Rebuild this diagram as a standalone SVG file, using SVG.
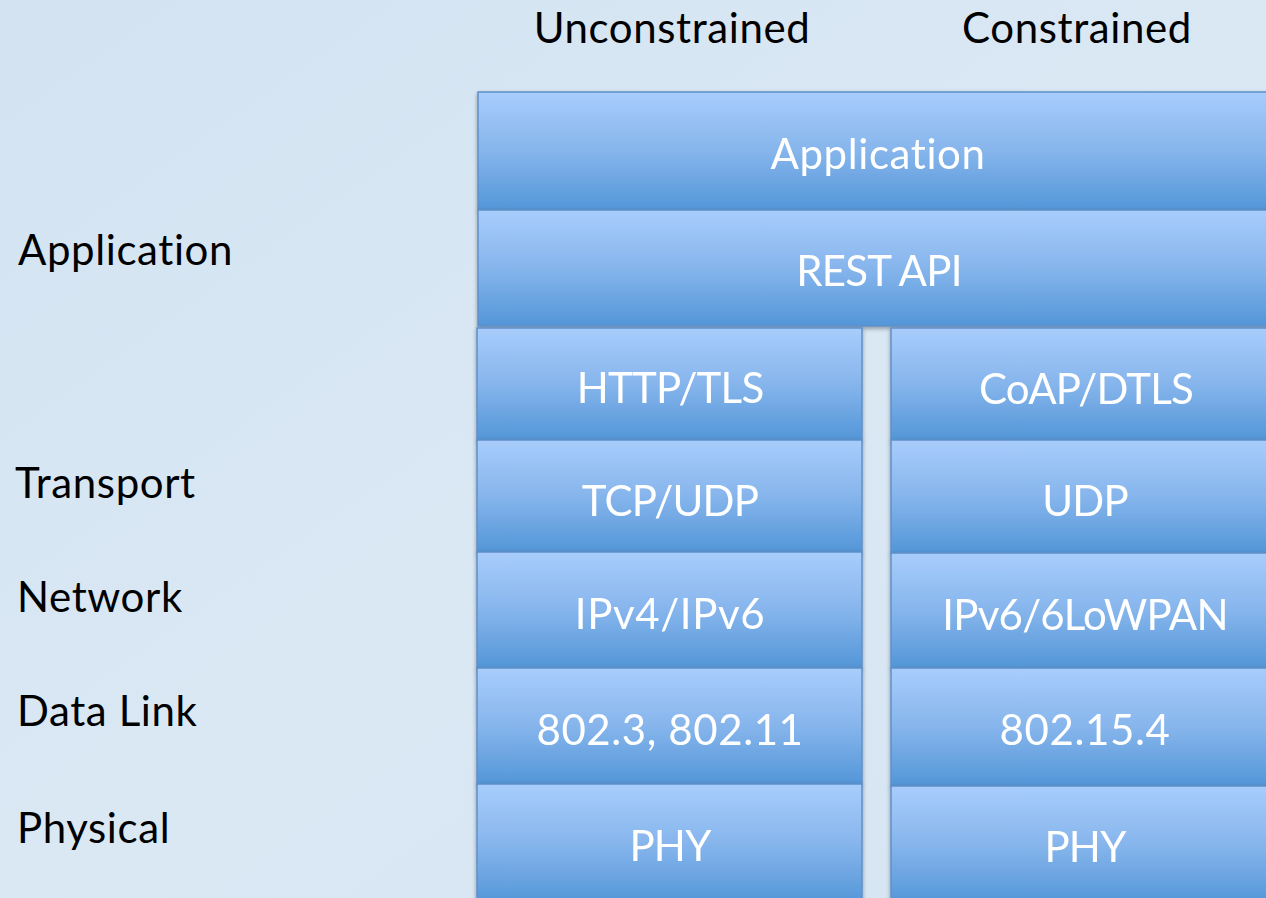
<svg xmlns="http://www.w3.org/2000/svg" width="1266" height="898" viewBox="0 0 1266 898">
<defs>
<linearGradient id="bg" x1="0" y1="0" x2="1" y2="1">
<stop offset="0" stop-color="#d3e3f1"/>
<stop offset="0.5" stop-color="#dae8f4"/>
<stop offset="1" stop-color="#d6e5f2"/>
</linearGradient>
<linearGradient id="cell" x1="0" y1="0" x2="0" y2="1">
<stop offset="0" stop-color="#a8cdfc"/>
<stop offset="0.5" stop-color="#86b5ec"/>
<stop offset="1" stop-color="#5396d8"/>
</linearGradient>
<filter id="sh" x="-5%" y="-5%" width="110%" height="115%">
<feDropShadow dx="0" dy="2" stdDeviation="2" flood-color="#000" flood-opacity="0.35"/>
</filter>
</defs>
<style>
.cell{fill:url(#cell);stroke:#5f90c8;stroke-width:1.5}
.wt{font-family:Lato,"Liberation Sans",sans-serif;font-size:42px;letter-spacing:0.6px;fill:#ffffff;text-anchor:middle}
.caps{letter-spacing:-0.8px}
.bt{font-family:Lato,"Liberation Sans",sans-serif;font-size:42px;letter-spacing:0.6px;fill:#000000}
</style>
<rect x="0" y="0" width="1266" height="898" fill="url(#bg)"/>
<g id="headers">
<text class="bt" x="672" y="43" text-anchor="middle">Unconstrained</text>
<text class="bt" x="1077" y="43" text-anchor="middle">Constrained</text>
</g>
<g id="layer-labels">
<text class="bt" x="18" y="265">Application</text>
<text class="bt" x="15" y="498">Transport</text>
<text class="bt" x="17" y="612">Network</text>
<text class="bt" x="17" y="726">Data Link</text>
<text class="bt" x="17" y="843">Physical</text>
</g>
<g id="application" filter="url(#sh)">
<rect class="cell" x="478" y="92" width="800" height="118"/>
<text class="wt" x="878" y="169">Application</text>
</g>
<g id="rest-api" filter="url(#sh)">
<rect class="cell" x="478" y="210" width="800" height="116"/>
<text class="wt caps" x="879" y="286">REST API</text>
</g>
<g id="http-tls" filter="url(#sh)">
<rect class="cell" x="477" y="328" width="385" height="112"/>
<text class="wt caps" x="670" y="403">HTTP/TLS</text>
</g>
<g id="tcp-udp" filter="url(#sh)">
<rect class="cell" x="477" y="440" width="385" height="112"/>
<text class="wt caps" x="670" y="516">TCP/UDP</text>
</g>
<g id="ipv4-ipv6" filter="url(#sh)">
<rect class="cell" x="477" y="552" width="385" height="116"/>
<text class="wt" x="670" y="629">IPv4/IPv6</text>
</g>
<g id="ieee-802-3" filter="url(#sh)">
<rect class="cell" x="477" y="668" width="385" height="116"/>
<text class="wt" x="670" y="745">802.3, 802.11</text>
</g>
<g id="phy-left" filter="url(#sh)">
<rect class="cell" x="477" y="784" width="385" height="120"/>
<text class="wt caps" x="670" y="861">PHY</text>
</g>
<g id="coap-dtls" filter="url(#sh)">
<rect class="cell" x="891" y="328" width="385" height="112"/>
<text class="wt caps" x="1086" y="404">CoAP/DTLS</text>
</g>
<g id="udp" filter="url(#sh)">
<rect class="cell" x="891" y="440" width="385" height="113"/>
<text class="wt caps" x="1085" y="516">UDP</text>
</g>
<g id="ipv6-6lowpan" filter="url(#sh)">
<rect class="cell" x="891" y="553" width="385" height="115"/>
<text class="wt caps" x="1085" y="630">IPv6/6LoWPAN</text>
</g>
<g id="ieee-802-15-4" filter="url(#sh)">
<rect class="cell" x="891" y="668" width="385" height="118"/>
<text class="wt" x="1085" y="745">802.15.4</text>
</g>
<g id="phy-right" filter="url(#sh)">
<rect class="cell" x="891" y="786" width="385" height="118"/>
<text class="wt caps" x="1085" y="862">PHY</text>
</g>
<g id="connectors"/>
</svg>
